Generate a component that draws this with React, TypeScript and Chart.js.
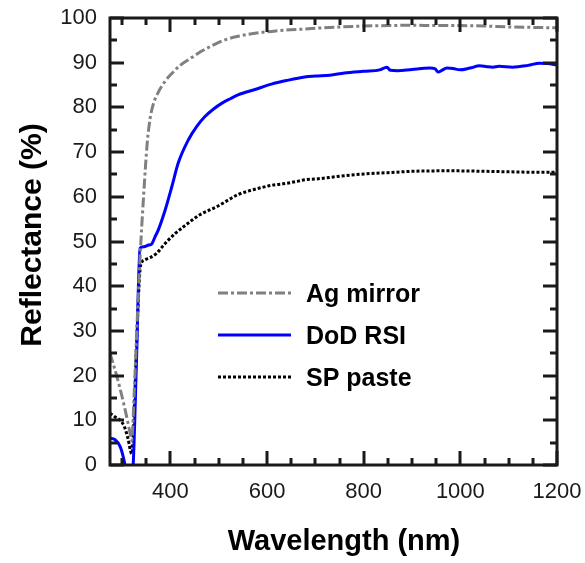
import { useEffect, useRef } from "react";
import { Chart, registerables } from "chart.js";

Chart.register(...registerables);

// ---- Data ----
const agWavelengths = [275, 290, 305, 315, 320, 325, 330, 337, 345, 352, 358, 364, 374, 390, 403, 420, 445, 465, 486, 510, 540, 575, 610, 640, 672, 700, 750, 800, 850, 900, 950, 1000, 1050, 1100, 1150, 1200];
const agValues = [25, 19.5, 13, 8, 5.5, 16, 29, 46, 61, 72, 77.5, 80.5, 83.2, 86, 87.6, 89.4, 91.2, 92.6, 93.8, 95, 95.9, 96.6, 97, 97.3, 97.5, 97.7, 98, 98.2, 98.3, 98.4, 98.3, 98.3, 98.2, 98, 97.9, 97.8];

const rsiWavelengths = [275, 285, 296, 302, 306, 310, 316, 321, 323, 330, 337, 345, 355, 361, 368, 375, 389, 403, 416, 437, 455, 471, 490, 506, 525, 540, 575, 609, 640, 678, 700, 730, 760, 800, 833, 848, 855, 870, 900, 937, 948, 954, 962, 972, 985, 999, 1020, 1040, 1055, 1067, 1080, 1108, 1140, 1164, 1180, 1200];
const rsiValues = [6, 5.7, 4.1, 2, 0, -3, -4, -2, 0, 24, 48.5, 48.8, 49.2, 49.4, 51, 52.6, 57, 62.3, 67.5, 72.7, 75.8, 77.9, 79.7, 80.9, 82, 82.8, 84, 85.2, 86, 86.8, 87, 87.2, 87.7, 88.1, 88.4, 89, 88.3, 88.2, 88.5, 88.8, 88.6, 87.9, 88.3, 88.8, 88.7, 88.4, 88.8, 89.3, 89.1, 89, 89.2, 89, 89.4, 89.9, 89.8, 89.5];

const spWavelengths = [275, 285, 296, 305, 312, 320, 325, 330, 335, 338, 347, 360, 372, 383, 393, 410, 426, 445, 461, 480, 496, 520, 540, 565, 590, 610, 633, 660, 678, 703, 750, 800, 850, 900, 950, 1000, 1050, 1100, 1150, 1200];
const spValues = [11.6, 10.8, 10, 8.5, 6, 2.5, 12, 27, 40, 44.5, 45.9, 46.5, 47.4, 48.8, 50, 51.8, 53.2, 54.8, 56, 57, 57.8, 59.3, 60.5, 61.4, 62.1, 62.6, 62.9, 63.4, 63.8, 64, 64.6, 65.1, 65.4, 65.7, 65.8, 65.8, 65.7, 65.6, 65.5, 65.5];

const seriesNames = ["Ag mirror", "DoD RSI", "SP paste"];

const xTickValues = [400, 600, 800, 1000, 1200];
const xMinorTickValues = [300, 350, 450, 500, 550, 650, 700, 750, 850, 900, 950, 1050, 1100, 1150];
const yTickValues = [0, 10, 20, 30, 40, 50, 60, 70, 80, 90, 100];
const yMinorTickValues = [5, 15, 25, 35, 45, 55, 65, 75, 85, 95];

const xTitle = "Wavelength (nm)";
const yTitle = "Reflectance (%)";

const FONT = '"Liberation Sans", Arial, sans-serif';
const INK = "#1a1a1a";

const toPoints = (xs: number[], ys: number[]) => xs.map((x, i) => ({ x, y: ys[i] }));

const framePlugin = {
  id: "frameTicks",
  afterDraw(chart: any) {
    const { ctx, chartArea, scales } = chart;
    const { left, right, top, bottom } = chartArea;
    const xs = scales.x;
    const ys = scales.y;
    ctx.save();
    ctx.strokeStyle = INK;
    ctx.lineWidth = 3;
    ctx.lineCap = "butt";
    const major = 14;
    const minor = 7;
    const drawX = (vals: number[], len: number) => {
      vals.forEach((v) => {
        const px = Math.round(xs.getPixelForValue(v));
        ctx.beginPath();
        ctx.moveTo(px, bottom);
        ctx.lineTo(px, bottom - len);
        ctx.moveTo(px, top);
        ctx.lineTo(px, top + len);
        ctx.stroke();
      });
    };
    const drawY = (vals: number[], len: number) => {
      vals.forEach((v) => {
        const py = Math.round(ys.getPixelForValue(v));
        ctx.beginPath();
        ctx.moveTo(left, py);
        ctx.lineTo(left + len, py);
        ctx.moveTo(right, py);
        ctx.lineTo(right - len, py);
        ctx.stroke();
      });
    };
    drawX(xTickValues, major);
    drawX(xMinorTickValues, minor);
    drawY(yTickValues, major);
    drawY(yMinorTickValues, minor);
    ctx.strokeRect(left, top, right - left, bottom - top);

    // axis titles
    ctx.fillStyle = "#000";
    ctx.textAlign = "center";
    ctx.textBaseline = "alphabetic";
    ctx.font = `bold 29px ${FONT}`;
    ctx.fillText(xTitle, 344, 550);
    ctx.save();
    ctx.translate(41, 235);
    ctx.rotate(-Math.PI / 2);
    ctx.font = `bold 30px ${FONT}`;
    ctx.fillText(yTitle, 0, 0);
    ctx.restore();

    // legend
    const legendY = [293, 335, 377];
    chart.data.datasets.forEach((ds: any, i: number) => {
      const y = legendY[i];
      ctx.save();
      ctx.strokeStyle = ds.borderColor;
      ctx.lineWidth = ds.borderWidth;
      ctx.setLineDash(ds.borderDash || []);
      ctx.beginPath();
      ctx.moveTo(218, y);
      ctx.lineTo(291, y);
      ctx.stroke();
      ctx.restore();
      ctx.fillStyle = "#000";
      ctx.font = `bold 25px ${FONT}`;
      ctx.textAlign = "left";
      ctx.textBaseline = "middle";
      ctx.fillText(ds.label, 306, y + 2);
    });
    ctx.restore();
  },
};

export default function App() {
  const canvasRef = useRef<HTMLCanvasElement | null>(null);

  useEffect(() => {
    const canvas = canvasRef.current;
    if (!canvas) return;
    const chart = new Chart(canvas, {
      type: "line",
      data: {
        datasets: [
          {
            label: seriesNames[0],
            data: toPoints(agWavelengths, agValues),
            borderColor: "#808080",
            borderWidth: 3,
            borderDash: [10, 3, 3, 3],
            pointRadius: 0,
            cubicInterpolationMode: "monotone",
          },
          {
            label: seriesNames[1],
            data: toPoints(rsiWavelengths, rsiValues),
            borderColor: "#0000ff",
            borderWidth: 3,
            pointRadius: 0,
            cubicInterpolationMode: "monotone",
          },
          {
            label: seriesNames[2],
            data: toPoints(spWavelengths, spValues),
            borderColor: "#000000",
            borderWidth: 3,
            borderDash: [3, 2],
            pointRadius: 0,
            cubicInterpolationMode: "monotone",
          },
        ],
      },
      options: {
        animation: false,
        responsive: false,
        maintainAspectRatio: false,
        devicePixelRatio: 1,
        layout: { padding: { top: 18, right: 28, left: 0, bottom: 0 } },
        plugins: { legend: { display: false }, tooltip: { enabled: false } },
        scales: {
          x: {
            type: "linear",
            min: 275,
            max: 1200,
            grid: { display: false, drawTicks: false },
            border: { display: false },
            afterBuildTicks: (s: any) => {
              s.ticks = xTickValues.map((v) => ({ value: v }));
            },
            afterFit: (s: any) => {
              s.height = 98;
              s.paddingLeft = 0;
              s.paddingRight = 0;
            },
            ticks: {
              padding: 14,
              color: INK,
              font: { family: FONT, size: 22 },
              maxRotation: 0,
              autoSkip: false,
              callback: (v: any) => String(v),
            },
          },
          y: {
            type: "linear",
            min: 0,
            max: 100,
            grid: { display: false, drawTicks: false },
            border: { display: false },
            afterBuildTicks: (s: any) => {
              s.ticks = yTickValues.map((v) => ({ value: v }));
            },
            afterFit: (s: any) => {
              s.width = 110;
              s.paddingTop = 0;
              s.paddingBottom = 0;
            },
            ticks: {
              padding: 13,
              color: INK,
              font: { family: FONT, size: 22 },
              autoSkip: false,
              callback: (v: any) => String(v),
            },
          },
        },
      },
      plugins: [framePlugin],
    });
    return () => chart.destroy();
  }, []);

  return (
    <canvas
      ref={canvasRef}
      width={585}
      height={563}
      style={{ position: "absolute", left: 0, top: 0, width: 585, height: 563, background: "#fff" }}
    />
  );
}
